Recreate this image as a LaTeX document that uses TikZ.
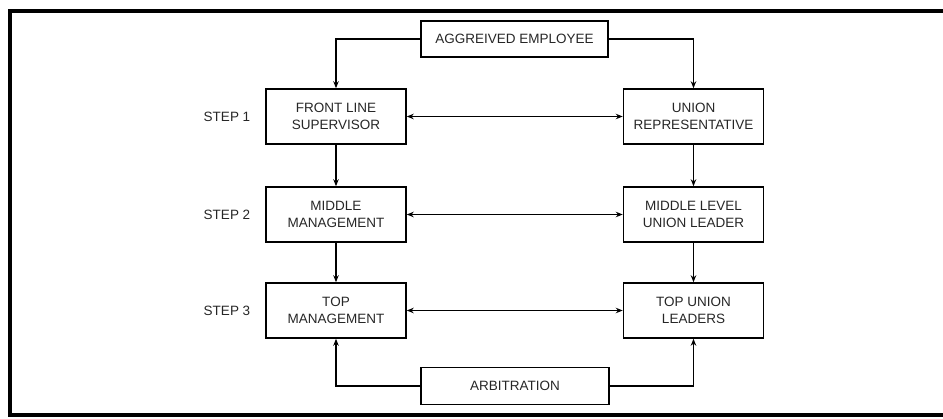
\documentclass[tikz,border=0pt]{standalone}
\usepackage{fontspec}
\setmainfont{Liberation Sans}
\usetikzlibrary{arrows.meta}
\tikzset{
  boxnode/.style={draw=black, line width=1.5pt, minimum width=140pt, minimum height=55pt, inner sep=0pt, align=center, text=black!85, font=\fontsize{13.5}{17}\selectfont},
  widebox/.style={boxnode, minimum width=188pt, minimum height=37pt},
  steplabel/.style={inner sep=0pt, text=black!85, font=\fontsize{13.5}{17}\selectfont},
  conn/.style={line width=1.3pt, draw=black},
  arr/.style={conn, -{Stealth[length=7pt,width=5.5pt]}},
  darr/.style={conn, {Stealth[length=7pt,width=5.5pt]}-{Stealth[length=7pt,width=5.5pt]}}
}
\begin{document}
\begin{tikzpicture}[x=1pt,y=-1pt]
\useasboundingbox (0,0) rectangle (943,418);
\clip (0,0) rectangle (943,418);
% frame
\draw[line width=4pt] (960,11) -- (10,11) -- (10,415) -- (960,415);
% nodes
\node[widebox, minimum width=187pt, minimum height=36pt] (agg) at (514.5,39) {AGGREIVED EMPLOYEE};
\node[boxnode] (fls) at (336,116.5) {FRONT LINE\\SUPERVISOR};
\node[boxnode] (ur) at (693.5,116.5) {UNION\\REPRESENTATIVE};
\node[boxnode] (mm) at (336,214.5) {MIDDLE\\MANAGEMENT};
\node[boxnode] (ml) at (693.5,214.5) {MIDDLE LEVEL\\UNION LEADER};
\node[boxnode] (tm) at (336,310.5) {TOP\\MANAGEMENT};
\node[boxnode] (tu) at (693.5,310.5) {TOP UNION\\LEADERS};
\node[widebox] (arb) at (515,386) {ARBITRATION};
\node[steplabel] (s1) at (227,117) {STEP 1};
\node[steplabel] (s2) at (227,215) {STEP 2};
\node[steplabel] (s3) at (227,311) {STEP 3};
% connectors
\draw[arr] (agg.west) -| (fls.north);
\draw[arr] (agg.east) -| (ur.north);
\draw[arr] (fls) -- (mm);
\draw[arr] (mm) -- (tm);
\draw[arr] (ur) -- (ml);
\draw[arr] (ml) -- (tu);
\draw[darr] (fls) -- (ur);
\draw[darr] (mm) -- (ml);
\draw[darr] (tm) -- (tu);
\draw[arr] (arb.west) -| (tm.south);
\draw[arr] (arb.east) -| (tu.south);
\end{tikzpicture}
\end{document}
